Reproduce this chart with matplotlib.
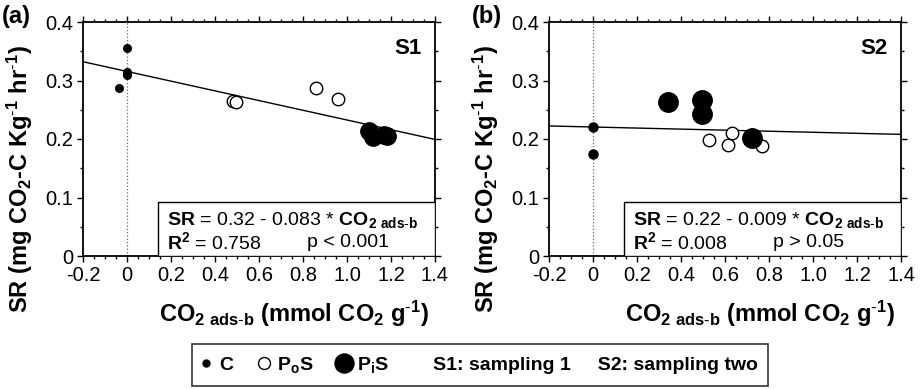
import numpy as np
import matplotlib
matplotlib.use("Agg")
import matplotlib.pyplot as plt
from matplotlib.lines import Line2D
from matplotlib.patches import Rectangle
from matplotlib.ticker import MultipleLocator, FixedLocator, FixedFormatter

plt.rcParams['font.family'] = ['Liberation Sans', 'DejaVu Sans']
plt.rcParams['mathtext.fontset'] = 'custom'
plt.rcParams['mathtext.rm'] = 'Liberation Sans'
plt.rcParams['mathtext.bf'] = 'Liberation Sans:bold'
plt.rcParams['mathtext.default'] = 'regular'

# S1 (sampling 1)
s1_c_x = [0.0, 0.0, 0.0, -0.035]
s1_c_y = [0.355, 0.315, 0.309, 0.287]
s1_po_x = [0.483, 0.494, 0.858, 0.961]
s1_po_y = [0.265, 0.264, 0.287, 0.268]
s1_pi_x = [1.10, 1.12, 1.17, 1.18]
s1_pi_y = [0.213, 0.204, 0.207, 0.205]
s1_fit = (0.3155, -0.083)

# S2 (sampling two)
s2_c_x = [0.0, 0.0]
s2_c_y = [0.221, 0.174]
s2_po_x = [0.527, 0.615, 0.630, 0.770]
s2_po_y = [0.198, 0.189, 0.210, 0.188]
s2_pi_x = [0.342, 0.497, 0.494, 0.724]
s2_pi_y = [0.264, 0.266, 0.242, 0.202]
s2_fit = (0.2205, -0.009)

x_ticks = [-0.2, 0, 0.2, 0.4, 0.6, 0.8, 1.0, 1.2, 1.4]
x_labels = ['-0.2', '0', '0.2', '0.4', '0.6', '0.8', '1.0', '1.2', '1.4']
y_ticks = [0, 0.1, 0.2, 0.3, 0.4]
y_labels = ['0', '0.1', '0.2', '0.3', '0.4']

legend_groups = ['C', r'P$_o$S', r'P$_i$S']
legend_notes = ['S1: sampling 1', 'S2: sampling two']

panels = [
    ('(a)', 'S1', s1_c_x, s1_c_y, s1_po_x, s1_po_y, s1_pi_x, s1_pi_y, s1_fit,
     r'$\mathbf{SR}$ = 0.32 - 0.083 * $\mathbf{CO_{2\ ads\text{-}b}}$',
     r'$\mathbf{R^2}$ = 0.758', 'p < 0.001'),
    ('(b)', 'S2', s2_c_x, s2_c_y, s2_po_x, s2_po_y, s2_pi_x, s2_pi_y, s2_fit,
     r'$\mathbf{SR}$ = 0.22 - 0.009 * $\mathbf{CO_{2\ ads\text{-}b}}$',
     r'$\mathbf{R^2}$ = 0.008', 'p > 0.05'),
]

fig = plt.figure(figsize=(9.21, 3.89), dpi=100)
lefts = [83 / 921, 549 / 921]
tag_x = [2 / 921, 472 / 921]
msizes = [(5.5, 9, 12.5), (6.5, 9, 14)]

for left, tx, ms, (tag, stag, cx, cy, pox, poy, pix, piy, fit, eq1, eq2, ptxt) in zip(
        lefts, tag_x, msizes, panels):
    ax = fig.add_axes([left, 1 - 256 / 389, 352 / 921, 234 / 389])
    ax.set_xlim(-0.2, 1.4)
    ax.set_ylim(0, 0.4)

    ax.axvline(0, color='0.4', ls=':', lw=0.9, zorder=1)
    xx = np.array([-0.2, 1.4])
    ax.plot(xx, fit[0] + fit[1] * xx, color='black', lw=1.0, zorder=2)

    ax.plot(cx, cy, 'o', ms=ms[0], mfc='black', mec='black', zorder=3)
    ax.plot(pox, poy, 'o', ms=ms[1], mfc='white', mec='black', mew=1.0, zorder=3)
    ax.plot(pix, piy, 'o', ms=ms[2], mfc='black', mec='black', zorder=4)

    ax.add_patch(Rectangle((0.14, 0), 1.26, 0.092, facecolor='white',
                           edgecolor='black', lw=1.0, zorder=5))
    ax.text(0.238, 0.152, eq1, transform=ax.transAxes, fontsize=14,
            va='center', ha='left', zorder=6)
    ax.text(0.238, 0.058, eq2, transform=ax.transAxes, fontsize=14,
            va='center', ha='left', zorder=6)
    ax.text(0.636, 0.058, ptxt, transform=ax.transAxes, fontsize=14,
            va='center', ha='left', zorder=6)

    ax.text(0.963, 0.885, stag, transform=ax.transAxes, fontsize=16,
            fontweight='bold', ha='right', va='center')
    fig.text(tx, 1 - 17 / 389, tag, fontsize=17,
             fontweight='bold', ha='left', va='center')

    ax.xaxis.set_major_locator(FixedLocator(x_ticks))
    ax.xaxis.set_major_formatter(FixedFormatter(x_labels))
    ax.xaxis.set_minor_locator(MultipleLocator(0.05))
    ax.yaxis.set_major_locator(FixedLocator(y_ticks))
    ax.yaxis.set_major_formatter(FixedFormatter(y_labels))
    ax.yaxis.set_minor_locator(MultipleLocator(0.05))
    ax.tick_params(which='both', direction='out', top=True, right=True,
                   labelsize=14.5, width=1.0)
    ax.tick_params(which='major', length=4, pad=3)
    ax.tick_params(which='minor', length=2.5)
    for sp in ax.spines.values():
        sp.set_linewidth(1.3)

    ax.set_ylabel(r'SR (mg CO$_2$-C Kg$^{\text{-}1}$ hr$^{\text{-}1}$)', fontsize=17,
                  fontweight='bold')
    ax.yaxis.set_label_coords(-0.135, 0.33)
    ax.set_xlabel(r'CO$_{2\ ads\text{-}b}$ (mmol CO$_2$ g$^{\text{-}1}$)', fontsize=17,
                  fontweight='bold')
    ax.xaxis.set_label_coords(0.6, -0.185)

handles = [
    Line2D([], [], ls='', marker='o', ms=5, mfc='black', mec='black'),
    Line2D([], [], ls='', marker='o', ms=8.6, mfc='white', mec='black'),
    Line2D([], [], ls='', marker='o', ms=13.7, mfc='black', mec='black'),
    Line2D([], [], ls='', marker=''),
]
labels = legend_groups + ['     '.join(legend_notes)]
leg = fig.legend(handles, labels, loc='center', bbox_to_anchor=(480 / 921, 1 - 365 / 389),
                 ncol=4, frameon=True, fancybox=False, edgecolor='black',
                 handlelength=0.4, handletextpad=0.45, columnspacing=1.4,
                 borderpad=0.55, borderaxespad=0,
                 prop={'weight': 'bold', 'size': 14})
leg.get_frame().set_linewidth(1.2)

fig.savefig('out.png', dpi=100)
